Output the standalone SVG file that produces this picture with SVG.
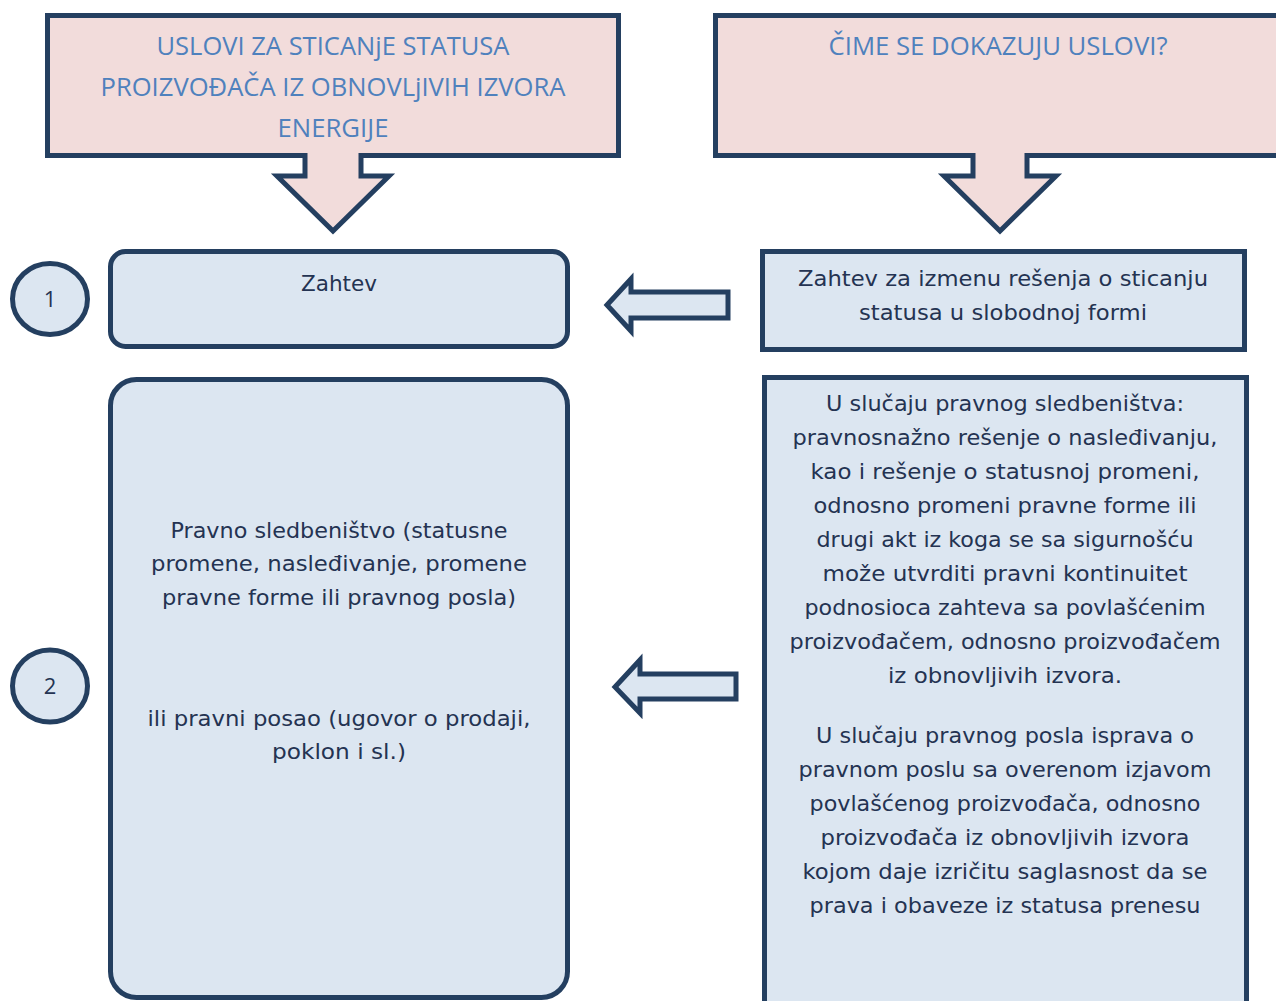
<svg xmlns="http://www.w3.org/2000/svg" width="1276" height="1001" viewBox="0 0 1276 1001">
<style>
.hdr{fill:#F2DCDB;stroke:#243F60;stroke-width:5;stroke-linejoin:miter}
.box{fill:#DCE6F1;stroke:#243F60;stroke-width:5;stroke-linejoin:miter}
.ht{font-family:"Open Sans","Liberation Sans",sans-serif;font-size:25px;fill:#4F81BD;text-anchor:middle}
.t{font-family:"DejaVu Sans","Liberation Sans",sans-serif;font-size:21px;fill:#243352;text-anchor:middle}
.c{font-family:"DejaVu Sans","Liberation Sans",sans-serif;font-size:21px;fill:#243352;text-anchor:middle}
.n{font-family:"Open Sans","Liberation Sans",sans-serif;font-size:22px;fill:#243352;text-anchor:middle}
</style>
<rect width="1276" height="1001" fill="#FFFFFF"/>
<g id="header-left">
<path class="hdr" d="M47.5,15.5 H618.5 V155.5 H361 V176 H389 L333,231 L277,176 H305 V155.5 H47.5 Z"/>
<text class="ht" x="333" y="55" textLength="353" lengthAdjust="spacingAndGlyphs">USLOVI ZA STICANjE STATUSA</text>
<text class="ht" x="333" y="96" textLength="465" lengthAdjust="spacingAndGlyphs">PROIZVOĐAČA IZ OBNOVLjIVIH IZVORA</text>
<text class="ht" x="333" y="137" textLength="111" lengthAdjust="spacingAndGlyphs">ENERGIJE</text>
</g>
<g id="header-right">
<path class="hdr" d="M715.5,15.5 H1285 V155.5 H1027 V176 H1056 L1000,231 L944,176 H973 V155.5 H715.5 Z"/>
<text class="ht" x="998" y="55" textLength="339" lengthAdjust="spacingAndGlyphs">ČIME SE DOKAZUJU USLOVI?</text>
</g>
<g id="circle-1">
<ellipse class="box" cx="50" cy="299" rx="37.5" ry="35.5"/>
<text class="n" x="50" y="307">1</text>
</g>
<g id="circle-2">
<ellipse class="box" cx="50" cy="686" rx="37.5" ry="36"/>
<text class="n" x="50" y="694">2</text>
</g>
<g id="zahtev">
<rect class="box" x="110.5" y="251.5" width="457" height="95" rx="15"/>
<text class="c" x="339" y="291" textLength="76" lengthAdjust="spacingAndGlyphs">Zahtev</text>
</g>
<g id="pravno">
<rect class="box" x="110.5" y="379.5" width="457" height="618" rx="26"/>
<text class="c" x="339" y="538" textLength="337" lengthAdjust="spacingAndGlyphs">Pravno sledbeništvo (statusne</text>
<text class="c" x="339" y="571" textLength="376" lengthAdjust="spacingAndGlyphs">promene, nasleđivanje, promene</text>
<text class="c" x="339" y="605" textLength="354" lengthAdjust="spacingAndGlyphs">pravne forme ili pravnog posla)</text>
<text class="c" x="339" y="726" textLength="383" lengthAdjust="spacingAndGlyphs">ili pravni posao (ugovor o prodaji,</text>
<text class="c" x="339" y="759" textLength="134" lengthAdjust="spacingAndGlyphs">poklon i sl.)</text>
</g>
<g id="zahtev-izmena">
<rect class="box" x="762.5" y="251.5" width="482" height="98"/>
<text class="t" x="1003" y="286" textLength="410" lengthAdjust="spacingAndGlyphs">Zahtev za izmenu rešenja o sticanju</text>
<text class="t" x="1003" y="320" textLength="288" lengthAdjust="spacingAndGlyphs">statusa u slobodnoj formi</text>
</g>
<g id="dokazi">
<rect class="box" x="764.5" y="377.5" width="482" height="630"/>
<text class="t" x="1005" y="411" textLength="358" lengthAdjust="spacingAndGlyphs">U slučaju pravnog sledbeništva:</text>
<text class="t" x="1005" y="445" textLength="425" lengthAdjust="spacingAndGlyphs">pravnosnažno rešenje o nasleđivanju,</text>
<text class="t" x="1005" y="479" textLength="389" lengthAdjust="spacingAndGlyphs">kao i rešenje o statusnoj promeni,</text>
<text class="t" x="1005" y="513" textLength="383" lengthAdjust="spacingAndGlyphs">odnosno promeni pravne forme ili</text>
<text class="t" x="1005" y="547" textLength="377" lengthAdjust="spacingAndGlyphs">drugi akt iz koga se sa sigurnošću</text>
<text class="t" x="1005" y="581" textLength="365" lengthAdjust="spacingAndGlyphs">može utvrditi pravni kontinuitet</text>
<text class="t" x="1005" y="615" textLength="401" lengthAdjust="spacingAndGlyphs">podnosioca zahteva sa povlašćenim</text>
<text class="t" x="1005" y="649" textLength="431" lengthAdjust="spacingAndGlyphs">proizvođačem, odnosno proizvođačem</text>
<text class="t" x="1005" y="683" textLength="234" lengthAdjust="spacingAndGlyphs">iz obnovljivih izvora.</text>
<text class="t" x="1005" y="743" textLength="378" lengthAdjust="spacingAndGlyphs">U slučaju pravnog posla isprava o</text>
<text class="t" x="1005" y="777" textLength="413" lengthAdjust="spacingAndGlyphs">pravnom poslu sa overenom izjavom</text>
<text class="t" x="1005" y="811" textLength="391" lengthAdjust="spacingAndGlyphs">povlašćenog proizvođača, odnosno</text>
<text class="t" x="1005" y="845" textLength="369" lengthAdjust="spacingAndGlyphs">proizvođača iz obnovljivih izvora</text>
<text class="t" x="1005" y="879" textLength="405" lengthAdjust="spacingAndGlyphs">kojom daje izričitu saglasnost da se</text>
<text class="t" x="1005" y="913" textLength="391" lengthAdjust="spacingAndGlyphs">prava i obaveze iz statusa prenesu</text>
</g>
<g id="connectors">
<polygon class="box" points="607,305 631,279 631,292 728,292 728,318 631,318 631,331"/>
<polygon class="box" points="615,687 640,660 640,674 736,674 736,699 640,699 640,713"/>
</g>
</svg>
